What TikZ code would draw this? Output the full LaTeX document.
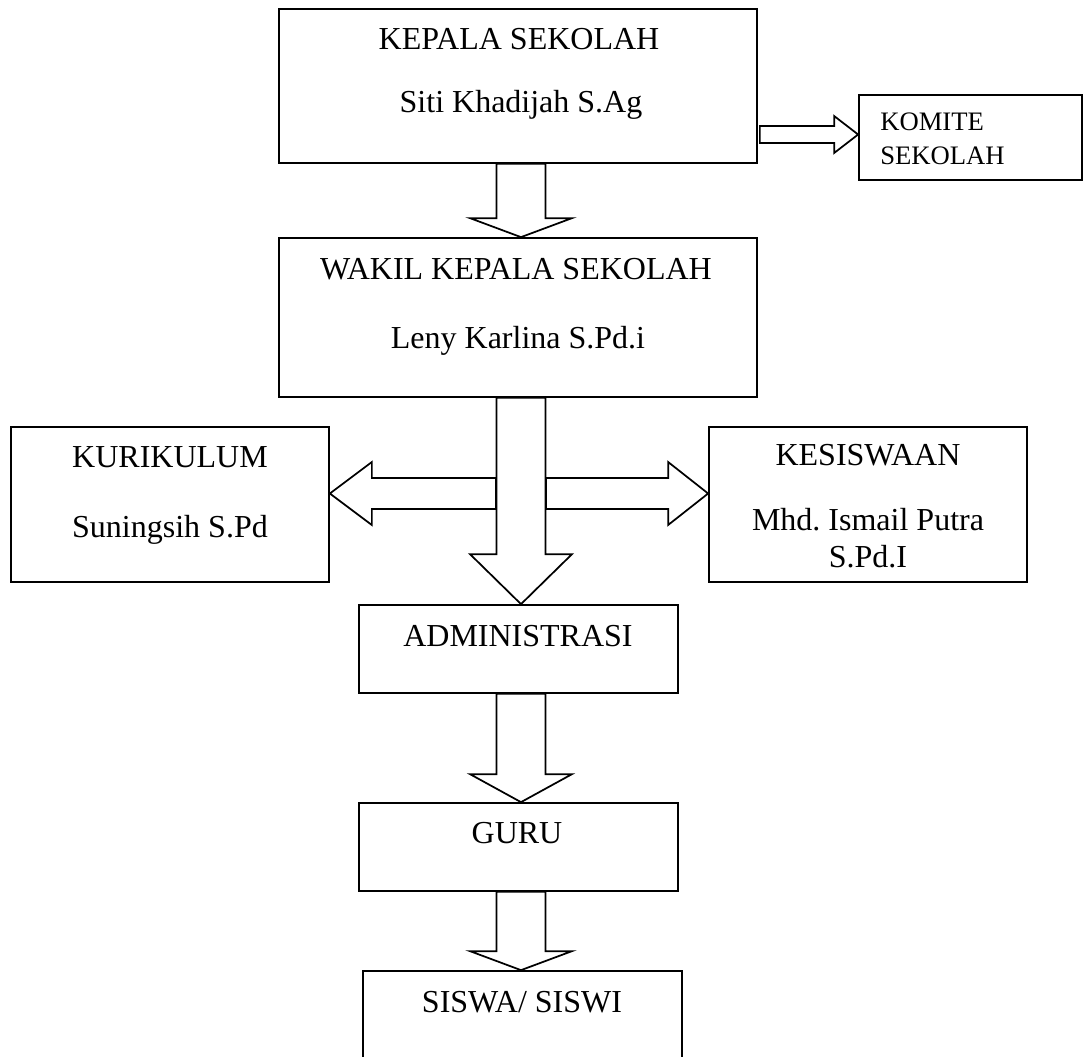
\documentclass[tikz,border=0pt]{standalone}
\usepackage{fontspec}
\setmainfont{Liberation Serif}
\frenchspacing
\usetikzlibrary{calc,fit}
\tikzset{
  box/.style={draw, line width=1.3pt, inner sep=0pt, fill=white},
  blk/.style={draw, line width=1.3pt, fill=white, line join=miter},
  txt/.style={inner sep=0pt, anchor=base, font=\fontsize{24}{28}\selectfont},
  smalltxt/.style={inner sep=0pt, anchor=base west, font=\fontsize{20}{24}\selectfont},
}
\newcommand{\vblk}[3]{%
  \draw[blk] ($(#1.south -| axis)+(-24.5,0)$) -- ($(#2.north -| axis)+(-24.5,-#3)$)
    -- ($(#2.north -| axis)+(-51,-#3)$) -- (#2.north -| axis)
    -- ($(#2.north -| axis)+(51,-#3)$) -- ($(#2.north -| axis)+(24.5,-#3)$)
    -- ($(#1.south -| axis)+(24.5,0)$) -- cycle;}
\begin{document}
\begin{tikzpicture}[x=0.75pt, y=-0.75pt]
\clip (0,0) rectangle (1083,1057);
\fill[white] (0,0) rectangle (1083,1057);
\coordinate (axis) at (521,0);
\coordinate (hub) at (521,493.5);
\coordinate (kline) at (0,134.5);
% boxes
\node[box, fit={(279,9) (757,163)}] (kepala) {};
\node[box, fit={(859,95) (1082,180)}] (komite) {};
\node[box, fit={(279,238) (757,397)}] (wakil) {};
\node[box, fit={(11,427) (329,582)}] (kurikulum) {};
\node[box, fit={(709,427) (1027,582)}] (kesiswaan) {};
\node[box, fit={(359,605) (678,693)}] (admin) {};
\node[box, fit={(359,803) (678,891)}] (guru) {};
\node[box, fit={(363,971) (682,1120)}] (siswa) {};
% texts
\node[txt] (t1) at (519,49) {KEPALA SEKOLAH};
\node[txt] (t2) at (521,112) {Siti Khadijah S.Ag};
\node[smalltxt] (t3) at (880,130) {KOMITE};
\node[smalltxt] (t4) at (880,164) {SEKOLAH};
\node[txt] (t5) at (516,279) {WAKIL KEPALA SEKOLAH};
\node[txt] (t6) at (518,348) {Leny Karlina S.Pd.i};
\node[txt] (t7) at (170,467) {KURIKULUM};
\node[txt] (t8) at (170,537) {Suningsih S.Pd};
\node[txt] (t9) at (868,465) {KESISWAAN};
\node[txt] (t10) at (868,530) {Mhd. Ismail Putra};
\node[txt] (t11) at (868,567) {S.Pd.I};
\node[txt] (t12) at (518,646) {ADMINISTRASI};
\node[txt] (t13) at (517,843) {GURU};
\node[txt] (t14) at (522,1012) {SISWA/ SISWI};
% vertical block arrows
\vblk{kepala}{wakil}{19}
\vblk{wakil}{admin}{50}
\vblk{admin}{guru}{28}
\vblk{guru}{siswa}{19}
% horizontal block arrows
\draw[blk] ($(hub)+(-25,-15.5)$) -- ($(kurikulum.east |- hub)+(42,-15.5)$)
  -- ($(kurikulum.east |- hub)+(42,-31.5)$) -- (kurikulum.east |- hub)
  -- ($(kurikulum.east |- hub)+(42,31.5)$) -- ($(kurikulum.east |- hub)+(42,15.5)$)
  -- ($(hub)+(-25,15.5)$) -- cycle;
\draw[blk] ($(hub)+(25,-15.5)$) -- ($(kesiswaan.west |- hub)+(-40,-15.5)$)
  -- ($(kesiswaan.west |- hub)+(-40,-31.5)$) -- (kesiswaan.west |- hub)
  -- ($(kesiswaan.west |- hub)+(-40,31.5)$) -- ($(kesiswaan.west |- hub)+(-40,15.5)$)
  -- ($(hub)+(25,15.5)$) -- cycle;
\draw[blk] ($(kepala.east |- kline)+(2,-8.5)$) -- ($(komite.west |- kline)+(-24,-8.5)$)
  -- ($(komite.west |- kline)+(-24,-18.5)$) -- (komite.west |- kline)
  -- ($(komite.west |- kline)+(-24,18.5)$) -- ($(komite.west |- kline)+(-24,8.5)$)
  -- ($(kepala.east |- kline)+(2,8.5)$) -- cycle;
\end{tikzpicture}
\end{document}
